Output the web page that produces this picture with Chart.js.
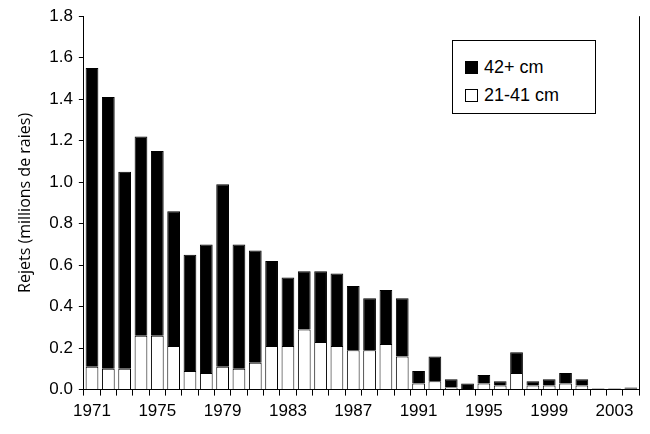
<!DOCTYPE html>
<html>
<head>
<meta charset="utf-8">
<script src="https://cdn.jsdelivr.net/npm/chart.js@4"></script>
<style>
  body { margin:0; background:#fff; }
  #wrap { position:relative; width:650px; height:434px; }
  #legend { position:absolute; left:452px; top:40px; width:144px; height:74px; border:1px solid #000; background:#fff;
            font-family:"Liberation Sans",Arial,sans-serif; font-size:18px; box-sizing:border-box; padding:12px 0 0 12px; }
  .row { display:flex; align-items:center; height:28px; }
  .sw { width:13px; height:13px; border:1px solid #000; margin-right:6px; box-sizing:border-box; }
</style>
</head>
<body>
<div id="wrap">
  <canvas id="c" width="650" height="434"></canvas>
  <div id="legend">
    <div class="row"><span class="sw" style="background:#000"></span>42+ cm</div>
    <div class="row"><span class="sw" style="background:#fff"></span>21-41 cm</div>
  </div>
</div>
<script>
const years = [];
for (let y = 1971; y <= 2004; y++) years.push(String(y));

const totals = [1.55,1.41,1.05,1.22,1.15,0.86,0.65,0.70,0.99,0.70,0.67,0.62,0.54,0.57,0.57,0.56,0.50,0.44,0.48,0.44,
                0.09,0.16,0.05,0.03,0.07,0.04,0.18,0.04,0.05,0.08,0.05,0.005,0.005,0.01];
const small = [0.11,0.10,0.10,0.26,0.26,0.21,0.09,0.08,0.11,0.10,0.13,0.21,0.21,0.29,0.23,0.21,0.19,0.19,0.22,0.16,
               0.03,0.04,0.01,0.003,0.03,0.02,0.08,0.02,0.02,0.03,0.02,0,0,0.004];
const large = totals.map((t, i) => +(t - small[i]).toFixed(3));

const font = { family: '"Liberation Sans", Arial, sans-serif', size: 17 };

new Chart(document.getElementById('c'), {
  type: 'bar',
  data: {
    labels: years,
    datasets: [
      { label: '21-41 cm', data: small, backgroundColor: '#fff', borderColor: '#000', borderWidth: 1,
        categoryPercentage: 1, barPercentage: 0.78 },
      { label: '42+ cm', data: large, backgroundColor: '#000', borderColor: '#000', borderWidth: 1,
        categoryPercentage: 1, barPercentage: 0.78 }
    ]
  },
  options: {
    responsive: false,
    animation: false,
    layout: { padding: { top: 6, right: 11, left: 12, bottom: 6 } },
    plugins: { legend: { display: false }, tooltip: { enabled: false } },
    scales: {
      x: {
        stacked: true,
        offset: true,
        grid: { offset: true, drawOnChartArea: false, color: '#000', tickLength: 6, tickColor: '#000' },
        border: { color: '#000', width: 1 },
        ticks: { autoSkip: false, maxRotation: 0, color: '#000', font, padding: 6,
                 callback: (v, i) => (i % 4 === 0 ? years[i] : '') }
      },
      y: {
        stacked: true,
        min: 0, max: 1.8,
        grid: { drawOnChartArea: false, color: '#000', tickLength: 5 },
        border: { color: '#000', width: 1 },
        ticks: { stepSize: 0.2, color: '#000', font, padding: 6, callback: v => v.toFixed(1) },
        title: { display: true, text: 'Rejets (millions de raies)', color: '#000', padding: { bottom: 8 },
                 font: { family: '"Open Sans", sans-serif', size: 16 } }
      }
    }
  },
  plugins: [{
    id: 'rightBorder',
    afterDraw(chart) {
      const { ctx, chartArea: a } = chart;
      ctx.save();
      ctx.strokeStyle = '#000';
      ctx.lineWidth = 1;
      ctx.beginPath();
      ctx.moveTo(a.right + 0.5, a.top);
      ctx.lineTo(a.right + 0.5, a.bottom);
      ctx.stroke();
      ctx.restore();
    }
  }]
});
</script>
</body>
</html>
